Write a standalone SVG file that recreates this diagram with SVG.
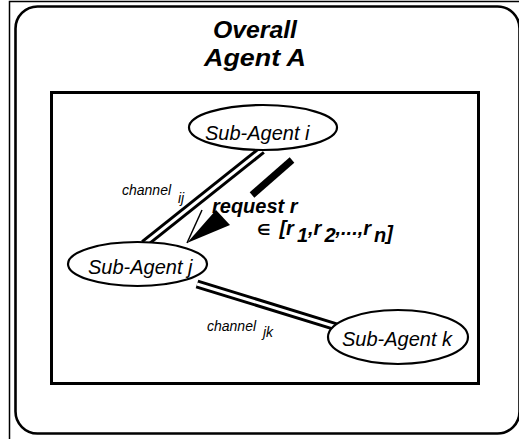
<svg xmlns="http://www.w3.org/2000/svg" width="519" height="439" viewBox="0 0 519 439">
<style>
.frame{fill:none;stroke:#000}
.node ellipse{fill:#fff;stroke:#000;stroke-width:2.2}
.lbl{font-family:"Liberation Sans",Arial,sans-serif;font-style:italic;font-size:20px;fill:#000}
.title{font-family:"Liberation Sans",Arial,sans-serif;font-style:italic;font-weight:bold;font-size:23px;fill:#000}
.req{font-family:"Liberation Sans","DejaVu Sans",Arial,sans-serif;font-style:italic;font-weight:bold;font-size:20px;fill:#000}
.ch{font-family:"Liberation Sans",Arial,sans-serif;font-style:italic;font-size:14px;fill:#000}
.dblo{stroke:#000;stroke-width:9;fill:none}
.dbli{stroke:#fff;stroke-width:3;fill:none}
</style>
<rect width="519" height="439" fill="#fff"/>
<rect class="frame" x="9.5" y="1.5" width="520" height="445" stroke-width="1.5"/>
<rect class="frame" x="15.5" y="6.5" width="504" height="427" rx="22" stroke-width="2.6"/>
<g id="title">
<text class="title" x="213" y="38" textLength="84" lengthAdjust="spacingAndGlyphs">Overall</text>
<text class="title" x="204" y="66" textLength="102" lengthAdjust="spacingAndGlyphs">Agent A</text>
</g>
<rect class="frame" x="51.5" y="92.5" width="427" height="291" stroke-width="3"/>
<g id="connectors">
<line class="dblo" x1="262" y1="150" x2="144" y2="244"/>
<line class="dbli" x1="262" y1="150" x2="144" y2="244"/>
<line class="dblo" x1="197" y1="284" x2="340" y2="328"/>
<line class="dbli" x1="197" y1="284" x2="340" y2="328"/>
<g id="request-arrow">
<line x1="292" y1="160" x2="252" y2="195" stroke="#000" stroke-width="7"/>
<polygon points="187,243 216,210 230,225" fill="#000"/>
<line x1="187" y1="243" x2="202" y2="210" stroke="#000" stroke-width="1.5"/>
</g>
</g>
<g id="sub-agent-i" class="node">
<ellipse cx="263" cy="127.5" rx="74" ry="22.5"/>
<text class="lbl" x="205" y="140">Sub-Agent i</text>
</g>
<g id="sub-agent-j" class="node">
<ellipse cx="137.5" cy="264" rx="69.5" ry="22"/>
<text class="lbl" x="88" y="274">Sub-Agent j</text>
</g>
<g id="sub-agent-k" class="node">
<ellipse cx="398" cy="337" rx="70" ry="27"/>
<text class="lbl" x="342" y="346">Sub-Agent k</text>
</g>
<g id="labels">
<text class="ch" x="122" y="195">channel</text>
<text class="ch" x="178" y="203" font-size="15">ij</text>
<text class="ch" x="207" y="331">channel</text>
<text class="ch" x="263" y="337" font-size="15">jk</text>
<text class="req" x="212" y="213">request r</text>
<text class="req" x="257" y="235"><tspan font-size="15" font-style="normal">∈</tspan><tspan dx="9">[r</tspan><tspan dx="3" dy="7">1</tspan><tspan dy="-7">,r</tspan><tspan dx="3" dy="7">2</tspan><tspan dy="-7">,...,r</tspan><tspan dx="3" dy="7">n</tspan><tspan dy="-2">]</tspan></text>
</g>
</svg>
